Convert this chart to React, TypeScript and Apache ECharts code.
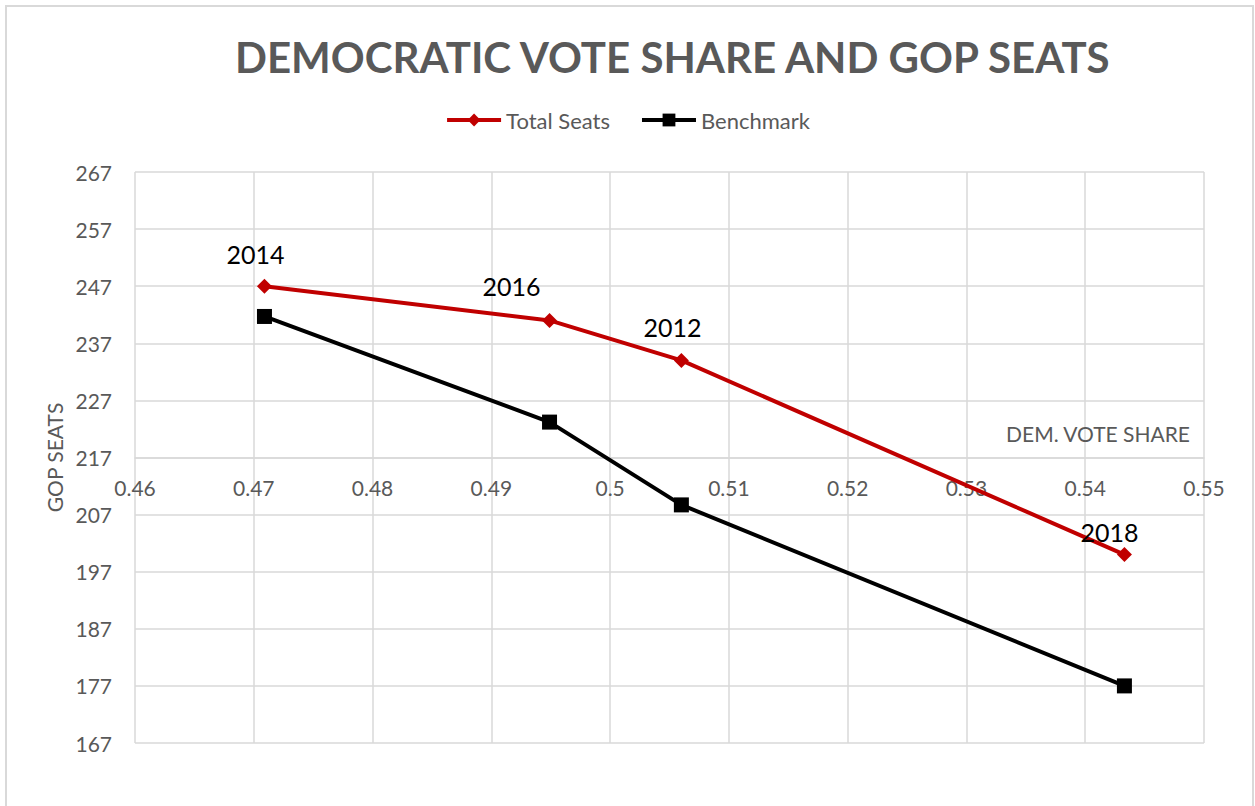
import React, { useEffect, useRef } from "react";
import * as echarts from "echarts";

const years = ["2014", "2016", "2012", "2018"];
const demVoteShare = [0.4709, 0.4949, 0.506, 0.5433];
const totalSeats = [247, 241, 234, 200];
const benchmark = [241.7, 223.2, 208.7, 177];
const xTicks = { min: 0.46, max: 0.55, interval: 0.01 };
const yTicks = { min: 167, max: 267, interval: 10 };
const labelOffsets = [[-9, -32], [-38, -34], [-9, -33], [-15, -23]];

const FONT = "Lato, 'Open Sans', sans-serif";
const GRAY = "#595959";

export default function App() {
  const ref = useRef<HTMLDivElement>(null);
  useEffect(() => {
    if (!ref.current) return;
    const chart = echarts.init(ref.current, undefined, { renderer: "svg" });
    const gridTop = 172;
    const gridBottom = 806 - 743;
    const plotH = 743 - gridTop;
    const crossY = 217;
    const axisOffset = -((crossY - yTicks.min) / (yTicks.max - yTicks.min)) * plotH;
    chart.setOption({
      animation: false,
      backgroundColor: "#fff",
      textStyle: { fontFamily: FONT },
      title: {
        text: "DEMOCRATIC VOTE SHARE AND GOP SEATS",
        left: 230,
        top: 31,
        textStyle: { fontFamily: FONT, fontSize: 42, fontWeight: "bold", color: GRAY },
      },
      legend: {
        top: 104,
        left: "center",
        itemWidth: 54,
        itemHeight: 16,
        itemGap: 30,
        lineStyle: { width: 4 },
        textStyle: { fontFamily: FONT, fontSize: 22, color: GRAY },
        data: ["Total Seats", "Benchmark"],
      },
      graphic: [
        {
          type: "rect",
          shape: { x: 6, y: 6, width: 1247, height: 820 },
          style: { fill: "none", stroke: "#d9d9d9", lineWidth: 2 },
          silent: true,
        },
      ],
      grid: { left: 135, right: 51, top: gridTop, bottom: gridBottom },
      xAxis: {
        type: "value",
        min: xTicks.min,
        max: xTicks.max,
        interval: xTicks.interval,
        position: "bottom",
        offset: axisOffset,
        axisLine: { show: true, onZero: false, lineStyle: { color: "#d9d9d9", width: 1.5 } },
        axisTick: { show: false },
        axisLabel: { fontFamily: FONT, fontSize: 21, color: GRAY, margin: 19 },
        splitLine: { show: true, lineStyle: { color: "#d9d9d9", width: 1.5 } },
        name: "DEM. VOTE SHARE",
        nameLocation: "end",
        nameGap: -14,
        nameTextStyle: {
          fontFamily: FONT,
          fontSize: 21,
          color: GRAY,
          align: "right",
          verticalAlign: "bottom",
          padding: [0, 0, 14, 0],
        },
      },
      yAxis: {
        type: "value",
        min: yTicks.min,
        max: yTicks.max,
        interval: yTicks.interval,
        axisLine: { show: false },
        axisTick: { show: false },
        axisLabel: { fontFamily: FONT, fontSize: 21, color: GRAY, margin: 23 },
        splitLine: { show: true, lineStyle: { color: "#d9d9d9", width: 1.5 } },
        name: "GOP SEATS",
        nameLocation: "middle",
        nameRotate: 90,
        nameGap: 70,
        nameTextStyle: { fontFamily: FONT, fontSize: 21, color: GRAY },
      },
      series: [
        {
          name: "Total Seats",
          type: "line",
          data: demVoteShare.map((x, i) => ({
            value: [x, totalSeats[i]],
            label: { offset: labelOffsets[i] },
          })),
          symbol: "diamond",
          symbolSize: 15,
          lineStyle: { color: "#c00000", width: 4 },
          itemStyle: { color: "#c00000" },
          label: {
            show: true,
            position: "inside",
            fontFamily: FONT,
            fontSize: 25,
            color: "#000",
            formatter: (p: any) => years[p.dataIndex],
          },
          z: 3,
        },
        {
          name: "Benchmark",
          type: "line",
          data: demVoteShare.map((x, i) => [x, benchmark[i]]),
          symbol: "rect",
          symbolSize: 15,
          lineStyle: { color: "#000", width: 4 },
          itemStyle: { color: "#000" },
          z: 2,
        },
      ],
    });
    return () => chart.dispose();
  }, []);
  return (
    <div
      ref={ref}
      style={{ position: "absolute", left: 0, top: 0, width: 1255, height: 806 }}
    />
  );
}
